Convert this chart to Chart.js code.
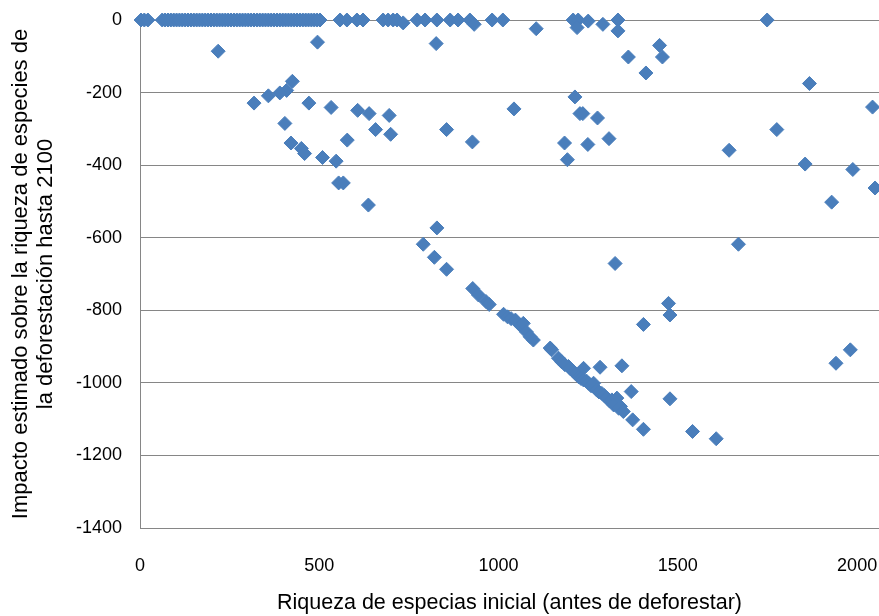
<!DOCTYPE html>
<html><head><meta charset="utf-8">
<script src="https://cdn.jsdelivr.net/npm/chart.js@4"></script>
<style>html,body{margin:0;padding:0;background:#fff}canvas{display:block}</style>
</head><body>
<canvas id="c" width="879" height="616"></canvas>
<script>
// Initial species richness (x) and estimated impact (y)
const speciesInitial = [
  3,12,22,62,70,78,86,94,102,110,118,126,134,142,150,158,166,174,182,190,198,206,214,222,230,238,246,254,262,270,
  278,286,294,302,310,318,326,334,342,350,358,366,374,382,390,398,406,414,422,430,438,446,454,462,470,478,486,494,502,
  558,577,605,622,678,692,706,717,734,773,795,828,865,887,920,932,982,1012,1105,1208,1222,1219,1250,1291,1333,1333,1749,
  218,495,826,425,409,390,358,318,471,533,607,639,695,404,657,699,578,855,927,421,450,459,509,547,554,567,1043,
  1362,1449,1457,1411,1867,1213,1227,1235,1276,2043,1776,1184,1249,1308,1192,1643,1855,1988,2050,1929,
  637,828,790,821,855,928,944,965,974,1014,1025,1035,1047,1060,1069,1078,1088,1097,1144,
  1148,1167,1176,1185,1195,1199,1209,1215,1237,1283,1344,1223,1230,1237,1245,1251,1258,1265,1274,1280,1288,1295,1302,1310,1316,1330,1321,1335,1340,1348,1370,1374,1404,1478,1541,1607,
  1669,1325,1474,1478,1404,1981,1941
];
const impact = [
  0,0,0,0,0,0,0,0,0,0,0,0,0,0,0,0,0,0,0,0,0,0,0,0,0,0,0,0,0,0,
  0,0,0,0,0,0,0,0,0,0,0,0,0,0,0,0,0,0,0,0,0,0,0,0,0,0,0,0,0,
  0,0,0,0,0,0,0,0,-8,0,0,0,0,0,0,-12,0,0,-24,0,0,-21,-3,-12,0,-30,0,
  -86,-61,-65,-169,-194,-201,-209,-229,-229,-241,-249,-258,-263,-285,-302,-315,-331,-302,-336,-339,-354,-368,-379,-389,-449,-449,-245,
  -102,-70,-102,-146,-175,-212,-258,-258,-270,-240,-302,-339,-343,-327,-385,-359,-397,-412,-463,-502,
  -510,-573,-618,-654,-687,-740,-758,-776,-784,-811,-818,-823,-827,-841,-836,-860,-873,-882,-904,
  -909,-932,-942,-950,-955,-960,-969,-975,-960,-957,-953,-983,-988,-992,-995,-1001,-1008,-1001,-1020,-1025,-1029,-1035,-1042,-1050,-1047,-1042,-1061,-1070,-1065,-1079,-1024,-1102,-1128,-1044,-1134,-1154,
  -618,-671,-781,-813,-839,-909,-946
];
const xTickValues = [0, 500, 1000, 1500, 2000];
const yTickValues = [0, -200, -400, -600, -800, -1000, -1200, -1400];
const xTitle = 'Riqueza de especias inicial (antes de deforestar)';
const yTitle = ['Impacto estimado sobre la riqueza de especies de', 'la deforestación hasta 2100'];

const FONT = "'Liberation Sans', Arial, sans-serif";
const GRID = '#868686';
const POINT = '#4A7EBB';

new Chart(document.getElementById('c'), {
  type: 'scatter',
  data: {
    datasets: [{
      data: speciesInitial.map((x, i) => ({ x: x, y: impact[i] })),
      pointStyle: 'rectRot',
      pointRadius: 7,
      pointHoverRadius: 7,
      backgroundColor: POINT,
      borderColor: POINT,
      borderWidth: 1,
      clip: false
    }]
  },
  options: {
    responsive: false,
    animation: false,
    devicePixelRatio: 1,
    layout: { autoPadding: false, padding: { top: 20, right: 0, left: 0, bottom: 0 } },
    plugins: { legend: { display: false }, tooltip: { enabled: false } },
    scales: {
      x: {
        type: 'linear', min: 0, max: 2061,
        afterBuildTicks: s => { s.ticks = xTickValues.map(v => ({ value: v })); },
        afterFit: s => { s.height = 88; s.paddingLeft = 0; s.paddingRight = 0; },
        grid: { display: false, drawTicks: false },
        border: { color: GRID, width: 1 },
        ticks: { color: '#000', font: { family: FONT, size: 18 }, padding: 27, maxRotation: 0, autoSkip: false, callback: v => String(v) },
        title: { display: true, text: xTitle, color: '#000', font: { family: FONT, size: 21.5, lineHeight: 1.2 }, padding: { top: 0, bottom: 0.2 } }
      },
      y: {
        type: 'linear', min: -1400, max: 0,
        afterBuildTicks: s => { s.ticks = yTickValues.map(v => ({ value: v })); },
        afterFit: s => { s.width = 140; s.paddingTop = 0; s.paddingBottom = 0; },
        grid: { color: GRID, drawTicks: false },
        border: { color: GRID, width: 1 },
        ticks: { color: '#000', font: { family: FONT, size: 18 }, padding: 18, callback: v => String(v) },
        title: { display: true, text: yTitle, color: '#000', font: { family: FONT, size: 22, lineHeight: 1.14 }, padding: { top: 8.5, bottom: 0 } }
      }
    }
  }
});
</script>
</body></html>
